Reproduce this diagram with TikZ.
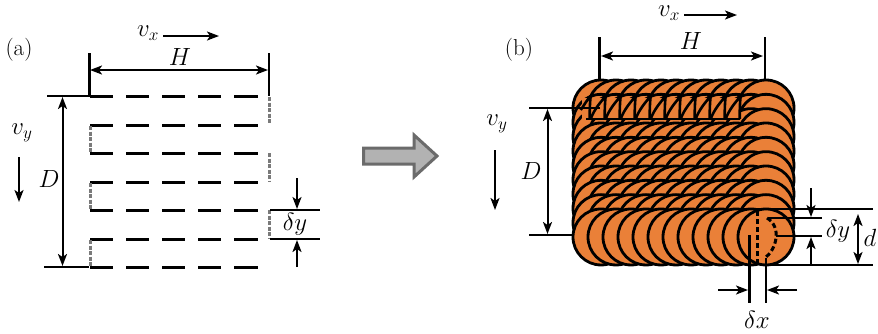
\documentclass[tikz,border=0pt]{standalone}
\usetikzlibrary{arrows.meta}
\definecolor{disc}{HTML}{EA8038}
\tikzset{
  tip/.tip={Stealth[length=12pt,width=9pt,inset=3pt]},
  dim/.style={line width=2pt,-tip},
  dimboth/.style={line width=2pt,tip-tip},
  rule/.style={line width=2.8pt},
  seg/.style={line width=3pt},
  gap/.style={line width=3pt,draw=black!52,dash pattern=on 4pt off 1.5pt},
  spot/.style={fill=disc,draw=black,line width=2.8pt},
  saw/.style={line width=2.6pt,line join=miter},
  trace/.style={line width=3pt,dash pattern=on 5pt off 3pt},
  lab/.style={inner sep=0pt,font=\fontsize{23}{25}\selectfont},
}
\begin{document}
\begin{tikzpicture}[x=1pt,y=-1pt]
\useasboundingbox (0,0) rectangle (878,333);
% ---------- (a)
\node[lab] (la) at (19,50) {(a)};
\node[lab] (vxa) at (148,33) {$v_x$};
\node[lab] (Ha) at (180,57) {$H$};
\node[lab] (vya) at (22,133) {$v_y$};
\node[lab] (Da) at (49,179) {$D$};
\node[lab] (dya) at (295,224) {$\delta y$};
\draw[dim] (163,36) -- (219,36);
\draw[dim] (19,157) -- (19,202);
\draw[rule] (89.5,53) -- (89.5,97);
\draw[rule] (269,53) -- (269,96);
\draw[dimboth] (90,70) -- (268,70);
\draw[rule] (47,96) -- (90,96);
\draw[rule] (44,267) -- (89,267);
\draw[dimboth] (62.5,97) -- (62.5,266);
\foreach \y in {96,125,153,182,210,239,267}
  \foreach \a/\b in {90/113,126/149,162/185,198/221,234/258}
    \draw[seg] (\a,\y) -- (\b,\y);
\foreach \x/\a/\b in {269/97/124,90/126/153,269/153/181,90/183/210,269/210/239,90/240/267}
  \draw[gap] (\x,\a) -- (\x,\b);
\draw[rule] (270,210) -- (320,210);
\draw[rule] (270,239) -- (320,239);
\draw[dim] (297,178) -- (297,209);
\draw[dim] (297,267) -- (297,240);
% ---------- big arrow
\draw[fill=black!30,draw=black!58,line width=3pt,line join=miter]
  (363.5,148) -- (414,148) -- (414,135) -- (437,156) -- (414,177) -- (414,164) -- (363.5,164) -- cycle;
% ---------- (b) discs
\foreach \r in {0,...,9}{
  \pgfmathsetmacro{\cy}{108+14.33*\r}
  \foreach \c in {0,...,11}{
    \pgfmathsetmacro{\cx}{601+15*\c}
    \draw[spot] (\cx,\cy) circle (28pt);
  }
}
% sawtooth band under the first row
\fill[disc] (582,97.5) rectangle (739,119);
\foreach \k in {0,...,10}{
  \pgfmathsetmacro{\px}{590.7+15*\k}
  \pgfmathsetmacro{\qx}{\px-15}
  \pgfmathsetmacro{\bx}{\px-1}
  \ifnum\k>0
    \draw[saw] (\qx,119) .. controls (\qx+3,110) and (\px-5,102) .. (\px,96) .. controls (\px-1,104) and (\bx,112) .. (\bx,119);
  \else
    \draw[saw] (\px-10,110) .. controls (\px-7,106) and (\px-4,100) .. (\px,96) .. controls (\px-1,104) and (\bx,112) .. (\bx,119);
  \fi
}
\draw[rule] (586,119) -- (740,119);
\draw[trace] (757,211) -- (757,264);
\draw[trace] (767,218) .. controls (774,222) and (777,230) .. (776,238) .. controls (775,247) and (770,254) .. (765,258);
% ---------- (b) labels and dimensions
\node[lab] (lb) at (519,50) {(b)};
\node[lab] (vxb) at (669,13) {$v_x$};
\node[lab] (Hb) at (691,41) {$H$};
\node[lab] (vyb) at (497,124) {$v_y$};
\node[lab] (Db) at (531,171) {$D$};
\node[lab] (dyb) at (838,231) {$\delta y$};
\node[lab] (db) at (870,238) {$d$};
\node[lab] (dxb) at (757,320) {$\delta x$};
\draw[dim] (684,15) -- (737,15);
\draw[rule] (599.5,37) -- (599.5,80);
\draw[rule] (765,37) -- (765,80);
\draw[dimboth] (601,56) -- (763,56);
\draw[dim] (495,150) -- (495,210);
\draw[rule] (529,108) -- (600,108);
\draw[rule] (529,235) -- (572,235);
\draw[dimboth] (547.5,109) -- (547.5,234);
\draw[rule] (740,209) -- (873,209);
\draw[rule] (770,265) -- (873,265);
\draw[rule] (768,218) -- (822,218);
\draw[rule] (776,236) -- (822,236);
\draw[dim] (811,188) -- (811,217);
\draw[dim] (811,265) -- (811,237);
\draw[dimboth] (858,214) -- (858,264);
\draw[rule] (749.5,235) -- (749.5,303);
\draw[rule] (766,258) -- (766,303);
\draw[dim] (718,290) -- (748,290);
\draw[dim] (797,290) -- (767,290);
\end{tikzpicture}
\end{document}
